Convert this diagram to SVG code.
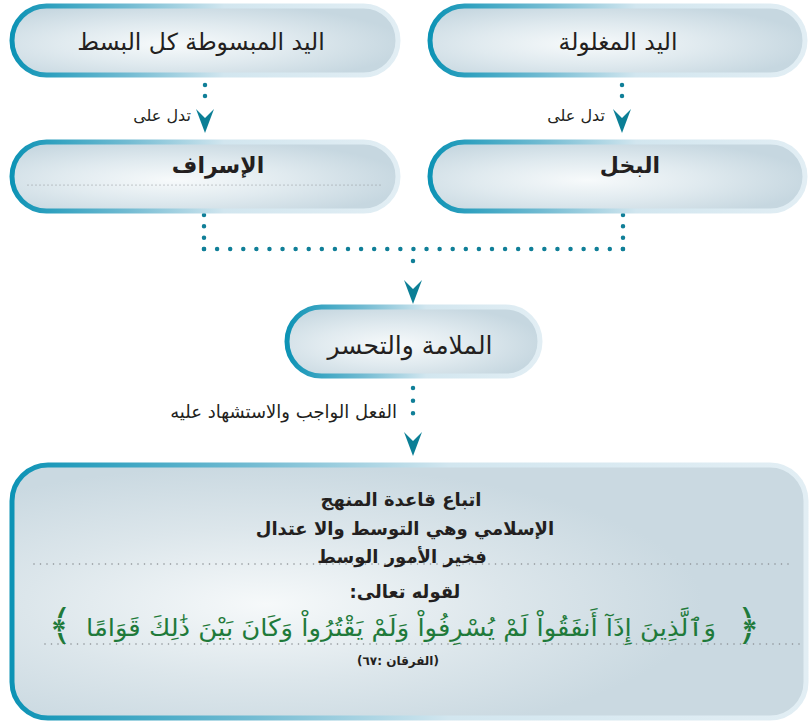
<svg xmlns="http://www.w3.org/2000/svg" width="809" height="722" viewBox="0 0 809 722">
<defs>
<radialGradient id="nodeFill" cx="0.42" cy="0.55" r="0.6">
<stop offset="0" stop-color="#f7fafb"/>
<stop offset="0.5" stop-color="#e0eaef"/>
<stop offset="1" stop-color="#c6d7e0"/>
</radialGradient>
<radialGradient id="boxFill" cx="0.32" cy="0.55" r="0.55">
<stop offset="0" stop-color="#f6f9fa"/>
<stop offset="0.55" stop-color="#dce6eb"/>
<stop offset="1" stop-color="#cad9e1"/>
</radialGradient>
<linearGradient id="edge" x1="0" y1="0" x2="1" y2="0">
<stop offset="0" stop-color="#0d93b5"/>
<stop offset="0.3" stop-color="#72bbd2"/>
<stop offset="0.55" stop-color="#d2e6ef"/>
<stop offset="1" stop-color="#e2eef4"/>
</linearGradient>
<path id="ah" d="M-9,0 L0,9 L9,0 L0,24 Z"/>
<style>
.node{fill:url(#nodeFill);stroke:url(#edge);stroke-width:5}
.box{fill:url(#boxFill);stroke:url(#edge);stroke-width:5}
.dots{fill:none;stroke:#107f98;stroke-width:4.5;stroke-linecap:round}
.grey{fill:none;stroke:#8a8f93;stroke-width:1.6;stroke-linecap:round;stroke-dasharray:0 6.5}
.ah{fill:#0b7f96}
text{font-family:'DejaVu Sans',sans-serif;fill:#231f20}
.big{font-size:23.5px}
.mid{font-size:25px}
.bold{font-size:22px;font-weight:bold}
.lab{font-size:16px}
.lab2{font-size:18px}
.body{font-size:18px;font-weight:bold}
.quran{font-size:24px;fill:#1f7a3a}
.orn{font-size:42px;fill:#1f7a3a}
.ref{font-size:12px;font-weight:bold}
</style>
</defs>
<rect width="809" height="722" fill="#ffffff"/>

<g id="connectors">
<line class="dots" x1="205" y1="85" x2="205" y2="107" stroke-dasharray="0 11"/>
<use href="#ah" class="ah" x="205" y="109"/>
<line class="dots" x1="622" y1="85" x2="622" y2="107" stroke-dasharray="0 11"/>
<use href="#ah" class="ah" x="622" y="109"/>
<line class="dots" x1="204" y1="215" x2="204" y2="249" stroke-dasharray="0 11.33"/>
<line class="dots" x1="623" y1="215" x2="623" y2="249" stroke-dasharray="0 11.33"/>
<line class="dots" x1="204" y1="249" x2="623" y2="249" stroke-dasharray="0 13.09"/>
<line class="dots" x1="413" y1="261" x2="413" y2="274" stroke-dasharray="0 13"/>
<use href="#ah" class="ah" x="413" y="280"/>
<line class="dots" x1="413" y1="388" x2="413" y2="426" stroke-dasharray="0 12.67"/>
<use href="#ah" class="ah" x="413" y="432"/>
<text class="lab" x="162" y="121" text-anchor="middle" direction="rtl">تدل على</text>
<text class="lab" x="576" y="121" text-anchor="middle" direction="rtl">تدل على</text>
<text class="lab2" x="397" y="418" text-anchor="start" direction="rtl">الفعل الواجب والاستشهاد عليه</text>
</g>

<g id="node-open-hand">
<rect class="node" x="12" y="6" width="386" height="69" rx="34.5"/>
<text class="big" x="201" y="50" text-anchor="middle" direction="rtl">اليد المبسوطة كل البسط</text>
</g>
<g id="node-closed-hand">
<rect class="node" x="430" y="6" width="375" height="69" rx="34.5"/>
<text class="big" x="618" y="50" text-anchor="middle" direction="rtl">اليد المغلولة</text>
</g>
<g id="node-israf">
<rect class="node" x="12" y="142" width="386" height="69" rx="34.5"/>
<line class="grey" x1="28" y1="185" x2="382" y2="185" style="stroke-width:1.2;stroke-dasharray:0 4"/>
<text class="bold" x="218" y="173" text-anchor="middle" direction="rtl">الإسراف</text>
</g>
<g id="node-bukhl">
<rect class="node" x="430" y="142" width="375" height="69" rx="34.5"/>
<text class="bold" x="630" y="173" text-anchor="middle" direction="rtl">البخل</text>
</g>
<g id="node-blame">
<rect class="node" x="287" y="307" width="253" height="69" rx="34.5"/>
<text class="mid" x="410" y="354" text-anchor="middle" direction="rtl">الملامة والتحسر</text>
</g>
<g id="node-moderation">
<rect class="box" x="12" y="465" width="794" height="253" rx="36"/>
<text class="body" x="401" y="506" text-anchor="middle" direction="rtl">اتباع قاعدة المنهج</text>
<text class="body" x="405" y="535" text-anchor="middle" direction="rtl">الإسلامي وهي التوسط والا عتدال</text>
<line class="grey" x1="34" y1="564" x2="792" y2="564"/>
<text class="body" x="402" y="563" text-anchor="middle" direction="rtl">فخير الأمور الوسط</text>
<text class="body" x="405" y="598" text-anchor="middle" direction="rtl">لقوله تعالى:</text>
<line class="grey" x1="45" y1="644" x2="800" y2="644"/>
<text class="orn" x="748" y="640" text-anchor="middle">﴿</text>
<text class="quran" x="401" y="636" text-anchor="middle" direction="rtl" textLength="630" lengthAdjust="spacingAndGlyphs">وَٱلَّذِينَ إِذَآ أَنفَقُواْ لَمْ يُسْرِفُواْ وَلَمْ يَقْتُرُواْ وَكَانَ بَيْنَ ذَٰلِكَ قَوَامًا</text>
<text class="orn" x="60" y="640" text-anchor="middle">﴾</text>
<text class="ref" x="398" y="665" text-anchor="middle" direction="rtl">(الفرقان :٦٧)</text>
</g>
</svg>
